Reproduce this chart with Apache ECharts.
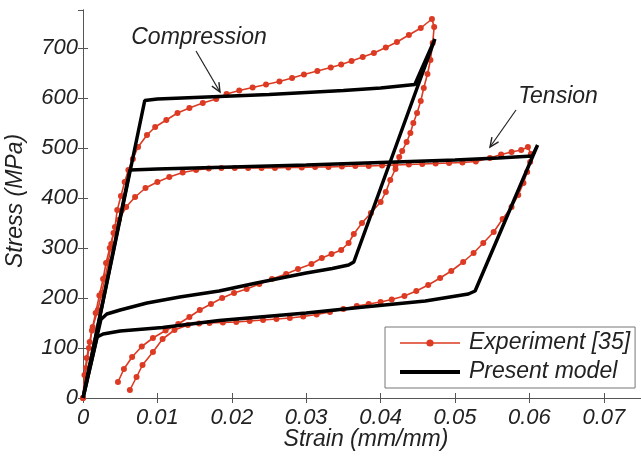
<!DOCTYPE html>
<html><head><meta charset="utf-8">
<script src="https://cdn.jsdelivr.net/npm/echarts@6/dist/echarts.min.js"></script>
<style>html,body{margin:0;padding:0;background:#fff}#c{width:641px;height:457px}</style>
</head><body><div id="c"></div>
<script>
// ---- Data (strain in mm/mm, stress in MPa) ----
const compExpStrain = [0,0.0002,0.0005,0.0009,0.0013,0.0020,0.0025,0.0030,0.0034,0.0038,0.0043,0.0046,0.0051,0.0056,0.0061,0.0067,0.0074,0.0086,0.0097,0.0112,0.0127,0.0143,0.0161,0.0179,0.0193,0.0210,0.0228,0.0246,0.0264,0.0281,0.0297,0.0315,0.0333,0.0347,0.0361,0.0376,0.0391,0.0407,0.0422,0.0438,0.0454,0.0469,0.0472,0.0470,0.0467,0.0463,0.0458,0.0454,0.0449,0.0444,0.0440,0.0435,0.0429,0.0425,0.0420,0.0413,0.0407,0.0400,0.0387,0.0375,0.0364,0.0357,0.0347,0.0334,0.0321,0.0307,0.0289,0.0273,0.0254,0.0237,0.0220,0.0203,0.0187,0.0172,0.0157,0.0143,0.0128,0.0111,0.0094,0.0079,0.0066,0.0055,0.0047];
const compExpStress = [0,46,80,112,142,176,210,242,272,308,342,376,404,432,456,478,502,526,542,556,570,580,590,598,608,615,621,627,633,640,647,654,661,667,674,682,690,701,712,726,740,758,742,710,676,648,620,594,570,550,530,512,494,482,458,436,412,392,370,350,328,310,296,288,280,268,258,248,238,228,218,210,200,188,176,162,148,135,120,103,82,58,32];

const tensExpStrain = [0,0.0004,0.0008,0.0012,0.0017,0.0022,0.0027,0.0031,0.0036,0.0041,0.0048,0.0058,0.0070,0.0084,0.0100,0.0116,0.0134,0.0152,0.0169,0.0186,0.0204,0.0222,0.0240,0.0258,0.0276,0.0294,0.0312,0.0330,0.0348,0.0366,0.0384,0.0402,0.0420,0.0438,0.0456,0.0474,0.0492,0.0510,0.0528,0.0547,0.0562,0.0576,0.0589,0.0598,0.0602,0.0601,0.0597,0.0592,0.0585,0.0576,0.0564,0.0552,0.0538,0.0525,0.0511,0.0495,0.0480,0.0464,0.0448,0.0432,0.0415,0.0400,0.0384,0.0368,0.0350,0.0332,0.0314,0.0296,0.0278,0.0260,0.0242,0.0224,0.0206,0.0188,0.0170,0.0156,0.0141,0.0123,0.0107,0.0094,0.0080,0.0072,0.0063];
const tensExpStress = [0,60,100,135,170,205,238,270,300,330,356,382,402,420,432,442,451,456,459,460,460,460,460,460,461,461,462,462,463,464,464,465,466,467,468,469,470,471,473,480,487,492,496,502,488,472,452,430,406,382,358,332,310,290,272,254,240,226,214,204,197,192,188,184,178,172,167,163,160,158,156,154,152,151,150,149,146,136,118,92,66,42,16];

const compModelStrain = [0,0.0083,0.010,0.015,0.020,0.025,0.030,0.035,0.040,0.0446,0.0473,0.0364,0.0357,0.0335,0.0300,0.0273,0.0230,0.0183,0.0130,0.0086,0.0050,0.0032,0.0024,0];
const compModelStress = [0,595,598,601,604,607,611,615,620,627,718,272,266,259,250,242,229,214,202,190,176,168,157,0];

const tensModelStrain = [0,0.0063,0.010,0.020,0.030,0.040,0.050,0.0558,0.0604,0.0611,0.0527,0.0518,0.0460,0.0371,0.0300,0.0183,0.0107,0.0050,0.0027,0.0019,0];
const tensModelStress = [0,456,458,462,466,471,476,480,484,506,214,208,194,181,170,155,141,134,128,122,0];

const xTicks = [0,0.01,0.02,0.03,0.04,0.05,0.06,0.07];
const yTicks = [0,100,200,300,400,500,600,700];

const zip = (xs, ys) => xs.map((x, i) => [x, ys[i]]);
const FONT = '"Liberation Sans", Arial, Helvetica, sans-serif';
const RED = '#dc3a22';

function arrowEls(x1, y1, x2, y2) {
  const a = Math.atan2(y2 - y1, x2 - x1), L = 10, s = 0.42;
  return [
    {type: 'line', shape: {x1, y1, x2, y2}, style: {stroke: '#222', lineWidth: 1.2}},
    {type: 'polyline', shape: {points: [[x2 - L * Math.cos(a - s), y2 - L * Math.sin(a - s)], [x2, y2], [x2 - L * Math.cos(a + s), y2 - L * Math.sin(a + s)]]},
     style: {stroke: '#222', lineWidth: 1.4, fill: null}}
  ];
}

const chart = echarts.init(document.getElementById('c'), null, {renderer: 'canvas'});
const axisCommon = {
  axisLine: {show: true, lineStyle: {color: '#555', width: 1}},
  axisTick: {show: true, inside: true, length: 5, lineStyle: {color: '#555'}},
  splitLine: {show: false}
};
chart.setOption({
  animation: false,
  backgroundColor: '#fff',
  grid: {left: 83, top: 10, right: -2, bottom: 59, containLabel: false},
  xAxis: [
    Object.assign({type: 'value', min: 0, max: 0.075, interval: 0.01, position: 'bottom',
      axisLabel: {show: true, showMaxLabel: false, margin: 9, color: '#222', fontSize: 22, fontStyle: 'italic', fontFamily: FONT,
        formatter: v => { const t = xTicks.find(k => Math.abs(k - v) < 1e-9); return t === undefined ? '' : (t === 0 ? '0' : t.toFixed(2)); }}}, axisCommon),
    Object.assign({type: 'value', min: 0, max: 0.075, interval: 0.01, position: 'top', axisLabel: {show: false}}, axisCommon)
  ],
  yAxis: [
    Object.assign({type: 'value', min: 0, max: 776, interval: 100, position: 'left',
      axisLabel: {show: true, showMaxLabel: false, margin: 5, color: '#222', fontSize: 22, fontStyle: 'italic', fontFamily: FONT,
        formatter: v => { const t = yTicks.find(k => Math.abs(k - v) < 1e-6); return t === undefined ? '' : String(t); }}}, axisCommon),
    Object.assign({type: 'value', min: 0, max: 776, interval: 100, position: 'right', axisLabel: {show: false}}, axisCommon)
  ],
  legend: {
    data: [
      {name: 'Experiment [35]', lineStyle: {width: 1.6, color: RED}},
      {name: 'Present model', lineStyle: {width: 4, color: '#000'}, itemStyle: {opacity: 0, color: 'rgba(0,0,0,0)', borderWidth: 0}}
    ],
    orient: 'vertical', left: 385, top: 327,
    padding: [4, 5, 4, 13], itemGap: 5, itemWidth: 60, itemHeight: 9,
    borderColor: '#777', borderWidth: 1, backgroundColor: '#fff',
    textStyle: {fontSize: 23, fontStyle: 'italic', fontFamily: FONT, color: '#222', lineHeight: 24, padding: [0, 0, 0, 4]}
  },
  series: [
    {name: 'Experiment [35]', type: 'line', data: zip(compExpStrain, compExpStress), color: RED,
     lineStyle: {width: 1.6, color: RED}, symbol: 'circle', symbolSize: 6, showSymbol: true, itemStyle: {color: RED}, z: 2},
    {name: 'Experiment [35]', type: 'line', data: zip(tensExpStrain, tensExpStress), color: RED,
     lineStyle: {width: 1.6, color: RED}, symbol: 'circle', symbolSize: 6, showSymbol: true, itemStyle: {color: RED}, z: 2},
    {name: 'Present model', type: 'line', data: zip(compModelStrain, compModelStress), color: '#000',
     lineStyle: {width: 3.5, color: '#000'}, symbol: 'none', z: 3},
    {name: 'Present model', type: 'line', data: zip(tensModelStrain, tensModelStress), color: '#000',
     lineStyle: {width: 3.5, color: '#000'}, symbol: 'none', z: 3}
  ],
  graphic: [
    {type: 'text', x: 366, y: 440, style: {text: 'Strain (mm/mm)', font: 'italic 23px ' + FONT, fill: '#222', align: 'center', verticalAlign: 'middle'}},
    {type: 'text', x: 16, y: 201, rotation: Math.PI / 2, style: {text: 'Stress (MPa)', font: 'italic 23px ' + FONT, fill: '#222', align: 'center', verticalAlign: 'middle'}},
    {type: 'text', x: 199, y: 38, style: {text: 'Compression', font: 'italic 23px ' + FONT, fill: '#222', align: 'center', verticalAlign: 'middle'}},
    {type: 'text', x: 558, y: 97, style: {text: 'Tension', font: 'italic 23px ' + FONT, fill: '#222', align: 'center', verticalAlign: 'middle'}},
    ...arrowEls(196, 51, 220, 92),
    ...arrowEls(516, 110, 490, 147)
  ]
});
</script>
</body></html>
